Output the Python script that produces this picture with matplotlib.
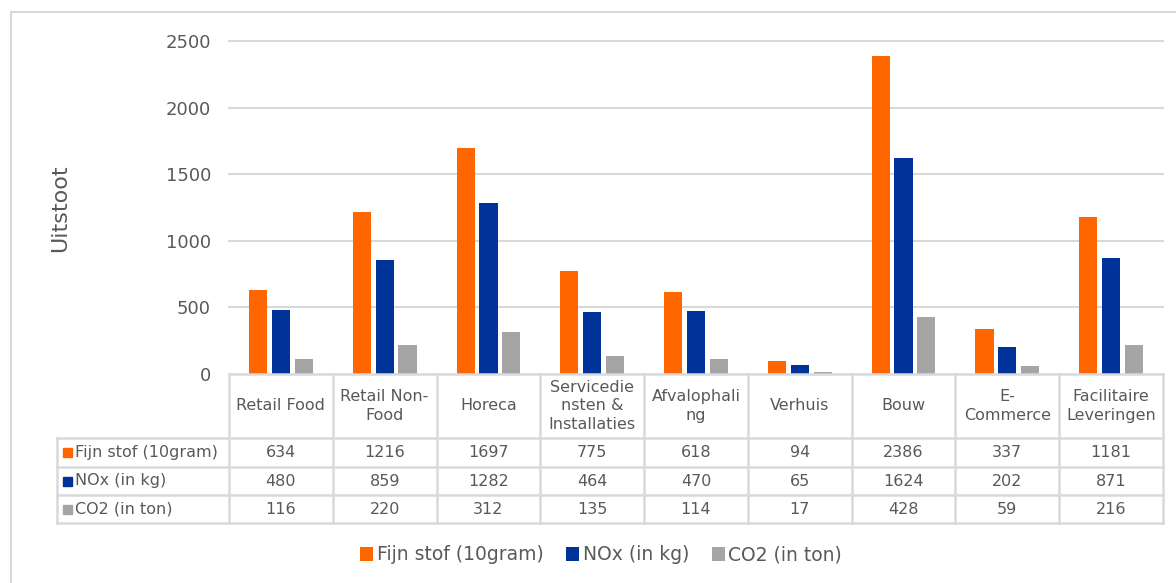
import matplotlib.pyplot as plt
from matplotlib.lines import Line2D
from matplotlib.patches import Rectangle, Patch

categories = ['Retail Food', 'Retail Non-\nFood', 'Horeca', 'Servicedie\nnsten &\nInstallaties',
              'Afvalophali\nng', 'Verhuis', 'Bouw', 'E-\nCommerce', 'Facilitaire\nLeveringen']
series_names = ['Fijn stof (10gram)', 'NOx (in kg)', 'CO2 (in ton)']
fijn_stof = [634, 1216, 1697, 775, 618, 94, 2386, 337, 1181]
nox = [480, 859, 1282, 464, 470, 65, 1624, 202, 871]
co2 = [116, 220, 312, 135, 114, 17, 428, 59, 216]
series = [fijn_stof, nox, co2]
colors = ['#FF6600', '#003399', '#A5A5A5']

W, H = 1176, 583
txt = '#595959'
grid = '#D9D9D9'

fig = plt.figure(figsize=(W / 100, H / 100), dpi=100)


def fx(px):
    return px / W


def fy(py):
    return 1 - py / H


# plot area in pixel coords
left, right, top, zero = 229, 1163, 41, 374
ax = fig.add_axes([fx(left), fy(zero), fx(right - left), (zero - top) / H])
n = len(categories)
ax.set_xlim(-0.5, n - 0.5)
ax.set_ylim(0, 2500)
ax.set_yticks(range(0, 2501, 500))
for g in range(500, 2501, 500):
    ax.axhline(g, color=grid, linewidth=1.5, zorder=1, clip_on=False)
for s in ax.spines.values():
    s.set_visible(False)
ax.tick_params(axis='y', length=0, pad=13, labelsize=13, labelcolor=txt)
ax.set_xticks([])

offsets = [-0.22, 0, 0.22]
for vals, col, off in zip(series, colors, offsets):
    ax.bar([i + off for i in range(n)], vals, width=0.175, color=col, zorder=3)

fig.text(fx(60), fy(208), 'Uitstoot', rotation=90, ha='center', va='center',
         fontsize=16, color=txt)

# data table under the axis
colw = (right - left) / n
hdr_bot = 438
row_edges = [hdr_bot, 467, 495, 523]
label_left = 57
fs = 11.5


def hline(x0, x1, y):
    fig.add_artist(Line2D([fx(x0), fx(x1)], [fy(y), fy(y)], color=grid, linewidth=1.8))


def vline(x, y0, y1):
    fig.add_artist(Line2D([fx(x), fx(x)], [fy(y0), fy(y1)], color=grid, linewidth=1.8))


hline(left, right, zero)
for y in row_edges:
    hline(label_left, right, y)
vline(label_left, hdr_bot, row_edges[-1])
for i in range(n + 1):
    vline(left + i * colw, zero, row_edges[-1])

for i, cat in enumerate(categories):
    fig.text(fx(left + (i + 0.5) * colw), fy((zero + hdr_bot) / 2), cat, ha='center',
             va='center', fontsize=fs, color=txt, linespacing=1.32)

for r, (name, vals, col) in enumerate(zip(series_names, series, colors)):
    yc = (row_edges[r] + row_edges[r + 1]) / 2
    fig.add_artist(Rectangle((fx(63), fy(yc + 4.5)), fx(9), 9 / H, color=col))
    fig.text(fx(75), fy(yc), name, ha='left', va='center', fontsize=fs, color=txt)
    for i, v in enumerate(vals):
        fig.text(fx(left + (i + 0.5) * colw), fy(yc), str(v), ha='center', va='center',
                 fontsize=fs, color=txt)

handles = [Patch(facecolor=c, label=nm) for c, nm in zip(colors, series_names)]
fig.legend(handles=handles, loc='center', bbox_to_anchor=(fx(601), fy(555)), ncol=3,
           frameon=False, fontsize=13.5, labelcolor=txt, handlelength=0.7,
           handleheight=0.7, handletextpad=0.2, columnspacing=1.2)

# chart border
fig.add_artist(Rectangle((fx(11), fy(600)), fx(1200), (600 - 12) / H, fill=False,
                         edgecolor=grid, linewidth=1.5))

fig.savefig('out.png', dpi=100)
